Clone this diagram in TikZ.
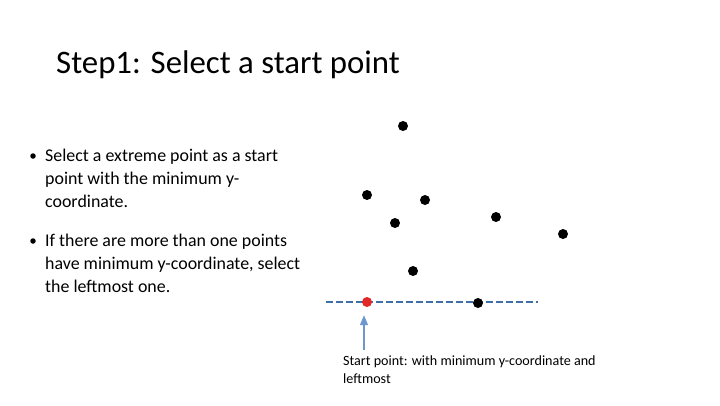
\documentclass[tikz,border=0pt]{standalone}
\usepackage{fontspec}
\setmainfont{Carlito}
\usepackage{xcolor}
\usetikzlibrary{arrows.meta,calc}
\definecolor{lineblue}{HTML}{3E6FA8}
\definecolor{arrowblue}{HTML}{6C98CF}
\definecolor{startred}{HTML}{E02A2A}
\tikzset{
    dot/.style={circle, fill=black, inner sep=0pt, minimum size=10pt},
    bullet/.style={circle, fill=black, inner sep=0pt, minimum size=5.5pt},
    txt/.style={anchor=base west, inner sep=0pt, align=left}
}

\begin{document}
\begin{tikzpicture}[x=1pt,y=-1pt]
\useasboundingbox (0,0) rectangle (720,405);

\node[txt, font=\fontsize{32.8}{36}\selectfont] (title) at (56,73) {Step1: Select a start point};

% bullets (base = last line)
\node[bullet] (b1) at (33,156) {};
\node[txt, font=\fontsize{17.9}{23}\selectfont] (t1) at (45,207) {Select a extreme point as a start\\point with the minimum y-\\coordinate.};
\node[bullet] (b2) at (33,241) {};
\node[txt, font=\fontsize{17.9}{23}\selectfont] (t2) at (45,292) {If there are more than one points\\have minimum y-coordinate, select\\the leftmost one.};

% the points
\foreach \n/\px/\py in {p1/403/126, p2/367/195, p3/425/200, p4/395/223, p5/496/217, p6/563/234, p7/413/271}
    \node[dot] (\n) at (\px,\py) {};

\coordinate (l0) at (326,302);
\coordinate (l1) at (538,302);
\draw[lineblue, line width=2.4pt, dash pattern=on 7pt off 3pt] (l0) -- (l1);
\node[dot, fill=startred] (start) at (367,302) {};
\node[dot] (p8) at (478,303) {};

\node[txt, font=\fontsize{14.1}{18}\selectfont] (cap) at (343,383) {Start point: with minimum y-coordinate and\\leftmost};
\coordinate (a0) at (364,350);
\draw[arrowblue, line width=1.3pt, -{Triangle[length=10pt,width=8pt]}] (a0) -- ($(start.south)+(-3,8)$);

\end{tikzpicture}
\end{document}
